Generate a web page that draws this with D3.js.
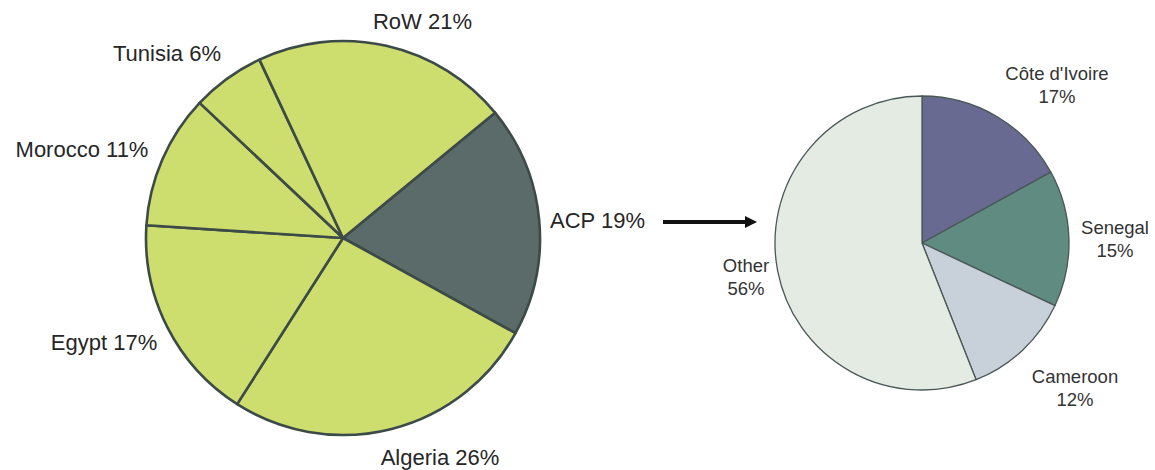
<!DOCTYPE html>
<html>
<head>
<meta charset="utf-8">
<script src="https://cdn.jsdelivr.net/npm/d3@7"></script>
<style>
  html, body { margin: 0; padding: 0; background: #fff; }
  svg { display: block; }
  text { font-family: "Liberation Sans", Arial, Helvetica, sans-serif; }
</style>
</head>
<body>
<svg id="chart" width="1155" height="470"></svg>
<script>
// ---- Data ----
const mainCategories = ["ACP", "Algeria", "Egypt", "Morocco", "Tunisia", "RoW"];
const mainValues     = [19, 26, 17, 11, 6, 21];
const acpCategories  = ["Côte d'Ivoire", "Senegal", "Cameroon", "Other"];
const acpValues      = [17, 15, 12, 56];

// ---- Layout / style (not data) ----
const W = 1155, H = 470;
const left  = { cx: 343, cy: 238, r: 197, start: 50.5 };
const right = { cx: 922, cy: 243, r: 147, start: 0 };

const mainColors = { ACP: "#5b6b69" };
const mainDefault = "#cddd6e";
const acpColors = ["#686a92", "#5f8b80", "#c8d0d9", "#e3ebe3"];

// label anchor positions (text layout)
const mainLabelPos = {
  "ACP":     { x: 550,   y: 228, anchor: "start" },
  "Algeria": { x: 440,   y: 465, anchor: "middle" },
  "Egypt":   { x: 104,   y: 350, anchor: "middle" },
  "Morocco": { x: 82,    y: 157, anchor: "middle" },
  "Tunisia": { x: 167,   y: 61,  anchor: "middle" },
  "RoW":     { x: 422.5, y: 29,  anchor: "middle" }
};
const acpLabelPos = {
  "Côte d'Ivoire": { x: 1057, y: 80 },
  "Senegal":       { x: 1115, y: 234 },
  "Cameroon":      { x: 1075, y: 383 },
  "Other":         { x: 746,  y: 272 }
};

const svg = d3.select("#chart");
svg.append("rect").attr("width", W).attr("height", H).attr("fill", "#fff");

const deg = Math.PI / 180;

// ---- Left pie ----
const pieMain = d3.pie().sort(null).value(d => d.v)
  .startAngle(left.start * deg).endAngle(left.start * deg + 2 * Math.PI);
const arcMain = d3.arc().innerRadius(0).outerRadius(left.r);
const mainData = mainCategories.map((c, i) => ({ c, v: mainValues[i] }));

const gL = svg.append("g").attr("transform", `translate(${left.cx},${left.cy})`);
gL.selectAll("path").data(pieMain(mainData)).join("path")
  .attr("d", arcMain)
  .attr("fill", d => mainColors[d.data.c] || mainDefault)
  .attr("stroke", "#3c4a48")
  .attr("stroke-width", 2.6)
  .attr("stroke-linejoin", "round");

svg.append("g").selectAll("text").data(mainData).join("text")
  .attr("x", d => mainLabelPos[d.c].x)
  .attr("y", d => mainLabelPos[d.c].y)
  .attr("text-anchor", d => mainLabelPos[d.c].anchor)
  .attr("font-size", 22)
  .attr("fill", "#262626")
  .text(d => `${d.c} ${d.v}%`);

// ---- Arrow ----
const arrowY = 222;
const ax0 = 663, ax1 = 757;
svg.append("line")
  .attr("x1", ax0).attr("y1", arrowY).attr("x2", ax1 - 9).attr("y2", arrowY)
  .attr("stroke", "#111").attr("stroke-width", 4);
svg.append("path")
  .attr("d", `M${ax1},${arrowY} L${ax1 - 12},${arrowY - 6} L${ax1 - 12},${arrowY + 6} Z`)
  .attr("fill", "#111");

// ---- Right pie ----
const pieAcp = d3.pie().sort(null).value(d => d.v)
  .startAngle(right.start * deg).endAngle(right.start * deg + 2 * Math.PI);
const arcAcp = d3.arc().innerRadius(0).outerRadius(right.r);
const acpData = acpCategories.map((c, i) => ({ c, v: acpValues[i], col: acpColors[i] }));

const gR = svg.append("g").attr("transform", `translate(${right.cx},${right.cy})`);
gR.selectAll("path").data(pieAcp(acpData)).join("path")
  .attr("d", arcAcp)
  .attr("fill", d => d.data.col)
  .attr("stroke", "#4a5756")
  .attr("stroke-width", 1.3)
  .attr("stroke-linejoin", "round");

const labR = svg.append("g").selectAll("text").data(acpData).join("text")
  .attr("x", d => acpLabelPos[d.c].x)
  .attr("y", d => acpLabelPos[d.c].y)
  .attr("text-anchor", "middle")
  .attr("font-size", 18.5)
  .attr("fill", "#333");
labR.append("tspan").attr("x", d => acpLabelPos[d.c].x).text(d => d.c);
labR.append("tspan").attr("x", d => acpLabelPos[d.c].x).attr("dy", 22.5).text(d => `${d.v}%`);
</script>
</body>
</html>
